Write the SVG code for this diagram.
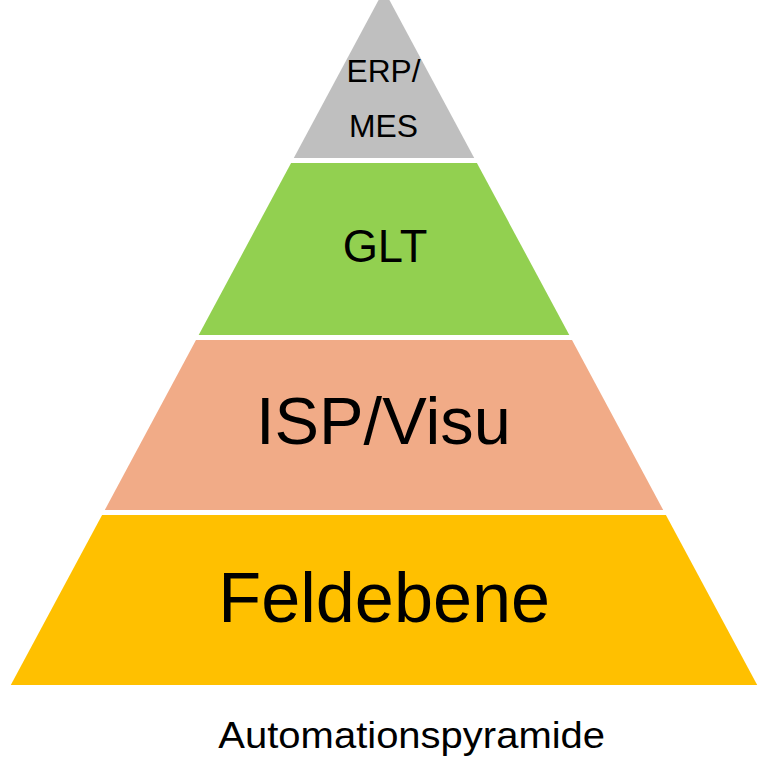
<svg xmlns="http://www.w3.org/2000/svg" width="768" height="768" viewBox="0 0 768 768">
  <style>
    .lbl { font-family: "Liberation Sans", Arial, sans-serif; fill: #000000; text-anchor: middle; }
  </style>
  <rect width="768" height="768" fill="#FFFFFF"/>
  <g id="layer-erp-mes">
    <polygon points="378.6,0 389.4,0 474.2,158 293.8,158" fill="#BFBFBF"/>
    <text class="lbl" x="383.5" y="82.3" font-size="31" textLength="74" lengthAdjust="spacingAndGlyphs">ERP/</text>
    <text class="lbl" x="383.5" y="137.3" font-size="31" textLength="69" lengthAdjust="spacingAndGlyphs">MES</text>
  </g>
  <g id="layer-glt">
    <polygon points="291.1,163 476.9,163 569.3,335 198.7,335" fill="#92D050"/>
    <text class="lbl" x="385" y="261.7" font-size="46" textLength="84.7" lengthAdjust="spacingAndGlyphs">GLT</text>
  </g>
  <g id="layer-isp-visu">
    <polygon points="196,340 572,340 663.2,510 104.8,510" fill="#F1AB87"/>
    <text class="lbl" x="383.4" y="444" font-size="67" textLength="254.7" lengthAdjust="spacingAndGlyphs">ISP/Visu</text>
  </g>
  <g id="layer-feldebene">
    <polygon points="102.1,515 665.9,515 757.2,685 10.8,685" fill="#FFC000"/>
    <text class="lbl" x="384.2" y="621.7" font-size="70" textLength="331.7" lengthAdjust="spacingAndGlyphs">Feldebene</text>
  </g>
  <g id="caption">
    <text class="lbl" x="411.7" y="748.3" font-size="36" textLength="386.7" lengthAdjust="spacingAndGlyphs">Automationspyramide</text>
  </g>
</svg>
